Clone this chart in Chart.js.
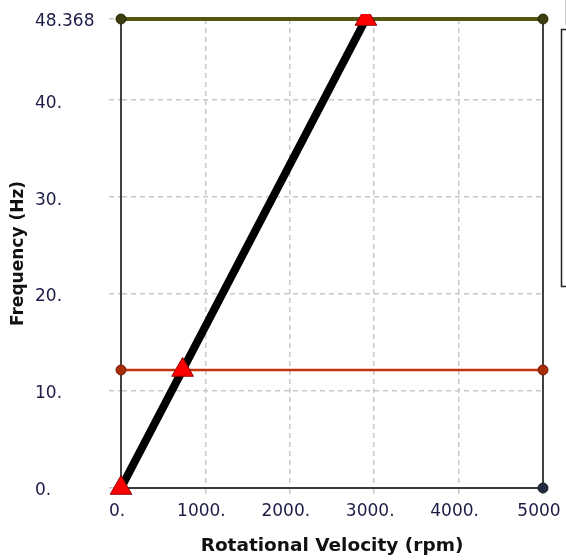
<!DOCTYPE html>
<html>
<head>
<meta charset="utf-8">
<script src="https://cdn.jsdelivr.net/npm/chart.js@4/dist/chart.umd.min.js"></script>
<style>
html,body{margin:0;padding:0;background:#fff;}
#wrap{width:566px;height:560px;position:relative;}
</style>
</head>
<body>
<div id="wrap"><canvas id="c" width="566" height="560"></canvas></div>
<script>
// ---- data ----
const xTickValues = [0, 1000, 2000, 3000, 4000, 5000];
const xTickLabels = ["0.", "1000.", "2000.", "3000.", "4000.", "5000"];
const yTickValues = [0, 10, 20, 30, 40, 48.368];
const yTickLabels = ["0.", "10.", "20.", "30.", "40.", "48.368"];
const speedRange = [0, 5000];
const mode1Freq = 12.17;
const mode2Freq = 48.368;
const orderLineX = [0, 2902];
const orderLineY = [0, 48.368];
const crossX = [0, 730, 2902];
const crossY = [0, 12.17, 48.368];

const pts = (xs, ys) => xs.map((x, i) => ({x: x, y: ys[i]}));
const flat = (v) => speedRange.map(x => ({x: x, y: v}));

const legendBracket = {
  id: 'legendBracket',
  afterDraw(chart) {
    const ctx = chart.ctx;
    ctx.save();
    ctx.strokeStyle = '#d0d0d0';
    ctx.lineWidth = 1;
    ctx.beginPath(); ctx.moveTo(565.5, 0); ctx.lineTo(565.5, 25); ctx.stroke();
    ctx.strokeStyle = '#222';
    ctx.lineWidth = 1.5;
    ctx.beginPath();
    ctx.moveTo(566, 29.5); ctx.lineTo(561.5, 29.5); ctx.lineTo(561.5, 286.5); ctx.lineTo(566, 286.5);
    ctx.stroke();
    ctx.restore();
  }
};

const gridDash = [5, 4];
const labelFont = {family: 'DejaVu Sans', size: 17};
const isEdge = c => c.tick && c.tick.value === 5000;

new Chart(document.getElementById('c'), {
  type: 'scatter',
  data: {
    datasets: [
      {
        data: pts(orderLineX, orderLineY),
        showLine: true, borderColor: '#000', borderWidth: 8, pointRadius: 0,
        order: 2
      },
      {
        data: flat(mode2Freq),
        showLine: true, borderColor: '#555514', borderWidth: 4,
        pointRadius: 5, pointBackgroundColor: '#3d3d10', pointBorderColor: '#2a2a08', pointBorderWidth: 1,
        clip: false, order: 3
      },
      {
        data: flat(mode1Freq),
        showLine: true, borderColor: '#c0340e', borderWidth: 2.5,
        pointRadius: 5, pointBackgroundColor: '#a82c08', pointBorderColor: '#7a1e04', pointBorderWidth: 1,
        clip: false, order: 3
      },
      {
        data: flat(0),
        showLine: true, borderColor: '#3a3a3a', borderWidth: 2,
        pointRadius: 5, pointBackgroundColor: '#262c40', pointBorderColor: '#161a28', pointBorderWidth: 1,
        clip: false, order: 4
      },
      {
        data: pts(crossX, crossY),
        showLine: false, pointStyle: 'triangle', pointRadius: 12.5,
        pointBackgroundColor: '#ff0000', pointBorderColor: '#900000', pointBorderWidth: 1,
        clip: {left: 20, top: 5, right: 20, bottom: 20}, order: 1
      }
    ]
  },
  options: {
    responsive: false,
    animation: false,
    layout: {padding: {left: 35, top: 19, right: 23, bottom: 0}},
    plugins: {legend: {display: false}, tooltip: {enabled: false}},
    scales: {
      x: {
        type: 'linear', min: 0, max: 5000,
        afterBuildTicks: s => { s.ticks = xTickValues.map(v => ({value: v})); },
        afterFit: s => { s.height = 72; s.paddingLeft = 0; s.paddingRight = 0; },
        ticks: {
          callback: (v, i) => xTickLabels[i],
          font: labelFont, color: '#1c1c46', padding: 3, labelOffset: -4, maxRotation: 0, autoSkip: false
        },
        grid: {
          color: c => isEdge(c) ? '#404040' : '#c8c8c8',
          lineWidth: c => isEdge(c) ? 2 : 1.5,
          tickBorderDash: gridDash, tickColor: '#c8c8c8', tickLength: 10
        },
        border: {color: '#404040', width: 2, dash: c => isEdge(c) ? [] : gridDash},
        title: {display: true, text: 'Rotational Velocity (rpm)', font: {family: 'DejaVu Sans', size: 18.5, weight: 'bold'}, color: '#111', padding: {top: 0, bottom: 3}}
      },
      y: {
        type: 'linear', min: 0, max: 48.368,
        afterBuildTicks: s => { s.ticks = yTickValues.map(v => ({value: v})); },
        afterFit: s => { s.width = 86; s.paddingTop = 0; s.paddingBottom = 0; },
        ticks: {
          callback: (v, i) => yTickLabels[i],
          font: labelFont, color: '#1c1c46', crossAlign: 'far', labelOffset: 3, autoSkip: false
        },
        grid: {
          color: '#c8c8c8', lineWidth: 1.5,
          tickBorderDash: gridDash, tickLength: 12
        },
        border: {color: '#404040', width: 2, dash: gridDash},
        title: {display: true, text: 'Frequency (Hz)', font: {family: 'DejaVu Sans', size: 17, weight: 'bold'}, color: '#111', padding: {top: -27, bottom: 0}}
      }
    }
  },
  plugins: [legendBracket]
});
</script>
</body>
</html>
